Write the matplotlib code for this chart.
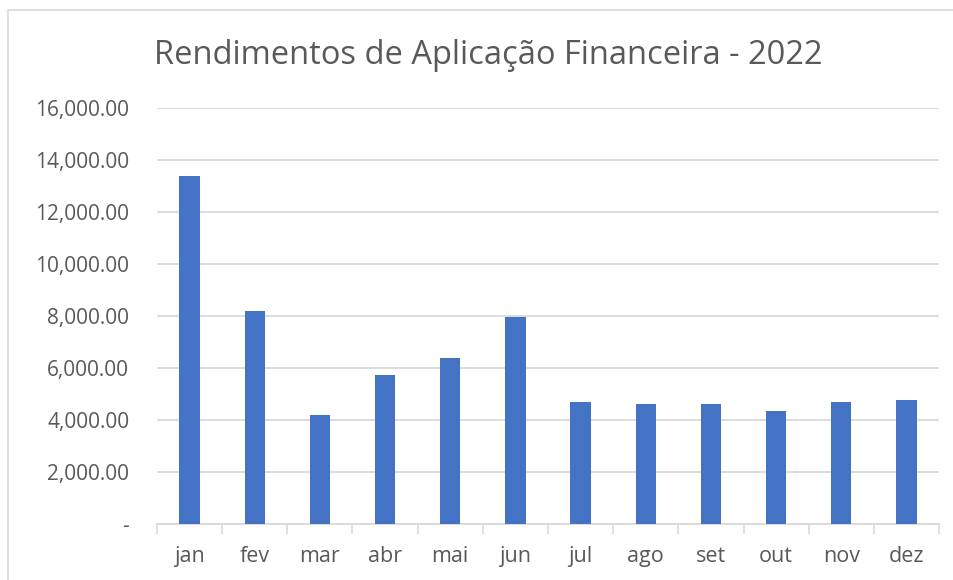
import matplotlib
matplotlib.use("Agg")
import matplotlib.pyplot as plt
from matplotlib.patches import Rectangle
import numpy as np

months = ["jan", "fev", "mar", "abr", "mai", "jun", "jul", "ago", "set", "out", "nov", "dez"]
values = [13390, 8190, 4180, 5750, 6400, 7960, 4680, 4615, 4620, 4345, 4690, 4780]
yticks = [0, 2000, 4000, 6000, 8000, 10000, 12000, 14000, 16000]
title = "Rendimentos de Aplicação Financeira - 2022"

W, H = 954, 580
plt.rcParams['font.family'] = ['Open Sans', 'DejaVu Sans']
fig = plt.figure(figsize=(W / 100, H / 100), dpi=100)
fig.patch.set_facecolor("white")

# chart-area border
fig.patches.append(Rectangle((8 / W, -0.1), 1.2, 1 - 10 / H + 0.1, transform=fig.transFigure,
                             fill=False, edgecolor="#D9D9D9", linewidth=1.2))

left, right, top, bottom = 157, 939, 108, 524
ax = fig.add_axes([left / W, 1 - bottom / H, (right - left) / W, (bottom - top) / H])

x = np.arange(len(months))
ax.bar(x, values, width=0.313, color="#4472C4", zorder=3)

ax.set_xlim(-0.5, len(months) - 0.5)
ax.set_ylim(0, 16000)
ax.set_yticks(yticks)
ax.set_yticklabels(["-" if v == 0 else f"{v:,.2f}" for v in yticks])
ax.yaxis.grid(True, color="#D9D9D9", linewidth=1.3, zorder=0)
ax.set_axisbelow(True)

ax.set_xticks(x)
ax.set_xticklabels(months)
ax.set_xticks(np.arange(-0.5, len(months), 1), minor=True)
ax.tick_params(axis="x", which="major", length=0, pad=16, labelsize=15.5, labelcolor="#595959")
ax.tick_params(axis="x", which="minor", length=7, width=1.2, color="#D9D9D9")
ax.tick_params(axis="y", length=0, pad=20, labelsize=15, labelcolor="#595959")

for s in ["top", "right", "left"]:
    ax.spines[s].set_visible(False)
ax.spines["bottom"].set_color("#D9D9D9")
ax.spines["bottom"].set_linewidth(1.3)

fig.text(488 / W, 1 - 64 / H, title, ha="center", va="baseline", fontsize=23.5, color="#595959")

fig.savefig("out.png", dpi=100, facecolor="white")
